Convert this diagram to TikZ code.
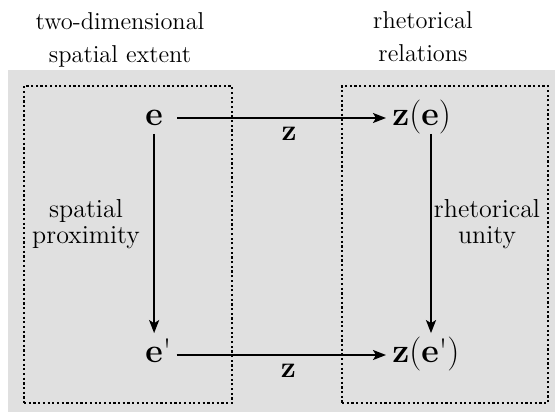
\documentclass[tikz,border=0pt]{standalone}
\usepackage{tikz}
\usetikzlibrary{arrows.meta, positioning}
\definecolor{PanelGray}{HTML}{E0E0E0}
\definecolor{InkBlack}{HTML}{000000}

\tikzset{
  domainbox/.style={draw=InkBlack, line width=1.1pt, dash pattern=on 1.1pt off 1.25pt},
  object/.style={inner sep=0pt, anchor=west, text=InkBlack,
                 font=\fontsize{17}{17}\selectfont, text height=7.5pt, text depth=0pt},
  maparrow/.style={draw=InkBlack, line width=0.9pt, -{Stealth[length=6.5pt, width=5pt, inset=1.5pt]}},
  caption/.style={align=center, text=InkBlack, font=\fontsize{13}{13}\selectfont},
  heading/.style={align=center, text=InkBlack, font=\fontsize{12.2}{16.5}\selectfont},
  maplabel/.style={inner sep=0pt, text=InkBlack, font=\fontsize{15}{15}\selectfont\bfseries}
}

\begin{document}
\begin{tikzpicture}[x=0.5pt, y=-0.5pt]
  \useasboundingbox (0,0) rectangle (555,412);
  \fill[PanelGray] (8,70) rectangle (555,412);

  % the two domains
  \node[domainbox, minimum width=104pt, minimum height=158.5pt] (spatial) at (128,244.5) {};
  \node[domainbox, minimum width=103pt, minimum height=158.5pt] (rhetoric) at (445,244.5) {};

  \node[heading] (spatialtitle) at (120,40) {two-dimensional\\spatial extent};
  \node[heading] (rhetorictitle) at (423,37) {rhetorical\\relations};

  % elements and their images
  \node[object] (e) at (145,118) {\textbf{e}};
  \node[object] (ep) at (145,355) {\textbf{e}\textquotesingle};
  \node[object] (ze) at (392,118) {\textbf{z}(\textbf{e})};
  \node[object] (zep) at (392,355) {\textbf{z}(\textbf{e}\textquotesingle)};

  \draw[maparrow, shorten <=7pt, shorten >=3pt] (e.east) -- (ze.west)
    node[maplabel, pos=0.55, below=4pt] {z};
  \draw[maparrow, shorten <=2.5pt, shorten >=3pt] (ep.east) -- (zep.west)
    node[maplabel, pos=0.53, below=4pt] {z};

  \draw[maparrow, shorten <=4pt, shorten >=7pt] (e.south) -- (e.south |- ep.north);
  \draw[maparrow, shorten <=4pt, shorten >=7pt] ([xshift=19.5pt]ze.south west) -- ([xshift=19.5pt]zep.north west);

  \node[caption] (proximity) at (86,224.5) {spatial\\proximity};
  \node[caption] (unity) at (487,224) {rhetorical\\unity};
\end{tikzpicture}
\end{document}
